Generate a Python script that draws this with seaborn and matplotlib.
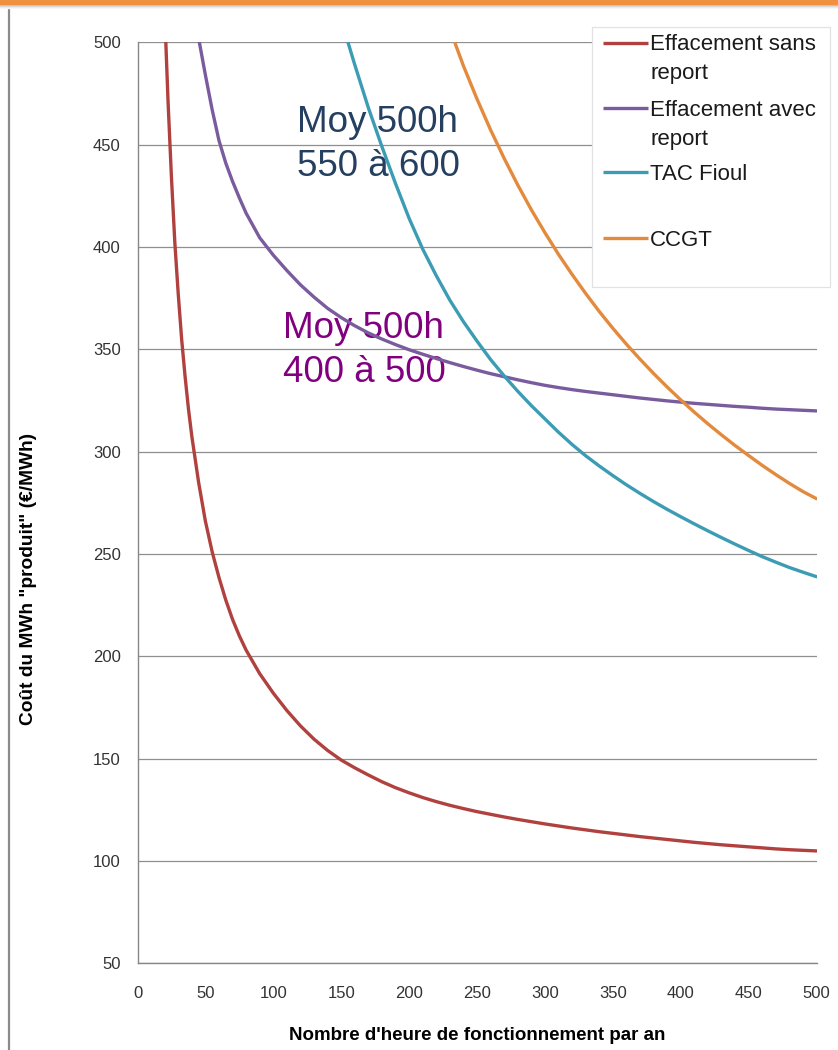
import matplotlib
matplotlib.use("Agg")
import matplotlib.pyplot as plt
import pandas as pd
import seaborn as sns
from matplotlib.lines import Line2D
from matplotlib.patches import Rectangle
from matplotlib.ticker import MultipleLocator

# ---- data -----------------------------------------------------------------
series_names = ["Effacement sans report", "Effacement avec report", "TAC Fioul", "CCGT"]
legend_lines = [["Effacement sans", "report"], ["Effacement avec", "report"], ["TAC Fioul"], ["CCGT"]]
series_colors = ["#B0413E", "#7A5C9E", "#3C9CB4", "#E48A3C"]

# hours of operation per year (denser where the curves are steep)
hours_sans_report = [20, 22.5, 25, 27.5, 30, 32.5, 35, 37.5, 40, 45, 50, 55, 60, 65, 70, 75, 80,
                     90, 100, 110, 120, 130, 140, 150, 160, 170, 180, 190, 200,
                     210, 220, 230, 240, 250, 260, 270, 280, 290, 300,
                     310, 320, 330, 340, 350, 360, 370, 380, 390, 400,
                     410, 420, 430, 440, 450, 460, 470, 480, 490, 500]
cost_sans_report = [515, 471, 434, 402, 377, 355, 337, 321, 307.5, 285, 266, 251, 238.5, 227.5, 218, 210, 203,
                    191.5, 182, 173.5, 166, 159.5, 154, 149.3, 145.5, 142, 138.7, 135.8, 133.3,
                    131, 129, 127.2, 125.6, 124.1, 122.8, 121.5, 120.3, 119.2, 118.1,
                    117.1, 116.1, 115.2, 114.3, 113.5, 112.7, 111.9, 111.2, 110.5, 109.8,
                    109.1, 108.5, 107.9, 107.4, 106.9, 106.4, 105.9, 105.5, 105.2, 104.9]

hours_avec_report = [40, 45, 50, 55, 60, 65, 70, 75, 80, 90, 100, 110, 120, 130, 140, 150,
                     160, 170, 180, 190, 200, 210, 220, 230, 240, 250, 260, 270, 280, 290, 300,
                     310, 320, 330, 340, 350, 360, 370, 380, 390, 400,
                     410, 420, 430, 440, 450, 460, 470, 480, 490, 500]
cost_avec_report = [525, 502, 484, 467, 452, 441, 432, 424, 416.5, 404.5, 396, 388.5, 381.5, 375.5, 370, 365.5,
                    361.5, 358, 355, 352.3, 349.8, 347.6, 345.5, 343.5, 341.6, 339.8, 338.1, 336.6, 335.1, 333.7, 332.4,
                    331.3, 330.3, 329.4, 328.6, 327.8, 327, 326.2, 325.5, 324.8, 324.2,
                    323.6, 323.1, 322.6, 322.1, 321.7, 321.2, 320.8, 320.5, 320.2, 319.9]

hours_tac = [150, 155, 160, 165, 170, 175, 180, 185, 190, 195, 200, 205, 210, 215, 220, 225, 230,
             240, 250, 260, 270, 280, 290, 300, 310, 320, 330, 340, 350, 360, 370, 380, 390, 400,
             410, 420, 430, 440, 450, 460, 470, 480, 490, 500]
cost_tac = [512, 500, 489, 478.5, 468, 458.5, 449, 440, 431, 422.5, 414, 406.5, 399, 392.5, 386, 380, 374,
            363.5, 354, 345, 337, 329.5, 322.5, 316, 309.5, 303.5, 298, 293, 288.3, 283.8, 279.6, 275.6, 271.8, 268.2,
            264.7, 261.3, 258, 254.8, 251.7, 248.7, 246, 243.4, 241.1, 238.9]

hours_ccgt = [230, 240, 250, 260, 270, 280, 290, 300, 310, 320, 330, 340, 350, 360,
              370, 380, 390, 400, 410, 420, 430, 440, 450, 460, 470, 480, 490, 500]
cost_ccgt = [506.5, 488.5, 472.3, 457.2, 443.3, 430.3, 418.2, 407, 396.4, 386.6, 377.3, 368.5, 360.3, 352.5,
             345.2, 338.2, 331.6, 325.3, 319.3, 313.6, 308.2, 303, 298.1, 293.3, 288.8, 284.5, 280.5, 277]

x_ticks = list(range(0, 501, 50))
y_ticks = list(range(50, 501, 50))

x_label = "Nombre d'heure de fonctionnement par an"
y_label = 'Coût du MWh "produit" (€/MWh)'
note_fioul = ["Moy 500h", "550 à 600"]
note_effacement = ["Moy 500h", "400 à 500"]

# ---- style ------------------------------------------------------------------
sns.set_style("white")
plt.rcParams["font.family"] = ["Liberation Sans", "DejaVu Sans"]

# ---- long-form table ----------------------------------------------------------
frames = []
for name, hrs, vals in [
    (series_names[0], hours_sans_report, cost_sans_report),
    (series_names[1], hours_avec_report, cost_avec_report),
    (series_names[2], hours_tac, cost_tac),
    (series_names[3], hours_ccgt, cost_ccgt),
]:
    frames.append(pd.DataFrame({"heures": hrs, "cout": vals, "serie": name}))
df = pd.concat(frames, ignore_index=True)

# ---- figure -----------------------------------------------------------------
W, H = 838, 1050
fig = plt.figure(figsize=(W / 100, H / 100), dpi=100)
fig.patch.set_facecolor("white")


def fx(px):
    return px / W


def fy(py):
    return 1 - py / H


ax_left, ax_right, ax_top, ax_bottom = 137.5, 816.5, 42.3, 963.3
ax = fig.add_axes([fx(ax_left), fy(ax_bottom), (ax_right - ax_left) / W, (ax_bottom - ax_top) / H])

grey = "#878787"
ax.set_xlim(0, 500)
ax.set_ylim(50, 500)
ax.set_yticks(y_ticks)
ax.set_xticks(x_ticks)
ax.xaxis.set_minor_locator(MultipleLocator(10))
ax.yaxis.grid(True, color="#8f8f8f", linewidth=0.9)
ax.xaxis.grid(False)
ax.set_axisbelow(True)

sns.lineplot(data=df, x="heures", y="cout", hue="serie", hue_order=series_names,
             palette=dict(zip(series_names, series_colors)), estimator=None,
             linewidth=2.4, legend=False, ax=ax, zorder=3)

sns.despine(ax=ax)
for side in ("left", "bottom"):
    ax.spines[side].set_color(grey)
    ax.spines[side].set_linewidth(1.0)

ax.tick_params(axis="y", which="major", length=5, width=0.9, color=grey, direction="out",
               pad=7, labelsize=12, labelcolor="#333333")
ax.tick_params(axis="x", which="both", length=3.6, width=0.9, color=grey, direction="out",
               pad=13, labelsize=12, labelcolor="#333333")

ax.set_xlabel(x_label, fontsize=13.5, fontweight="bold", color="black")
ax.set_ylabel(y_label, fontsize=13.8, fontweight="bold", color="black")
ax.xaxis.label.set_verticalalignment("center")
ax.yaxis.label.set_verticalalignment("center")
ax.xaxis.set_label_coords(0.5, -(1035 - ax_bottom) / (ax_bottom - ax_top))
ax.yaxis.set_label_coords(-(ax_left - 29) / (ax_right - ax_left), (ax_bottom - 579) / (ax_bottom - ax_top))

# ---- notes on the plot area (under the curves) -----------------------------------
for text, h, v in [(note_fioul[0], 117.6, 456.3), (note_fioul[1], 117.6, 434.8)]:
    ax.text(h, v, text, color="#243F60", fontsize=26.5, va="baseline", ha="left", zorder=1)
for text, h, v in [(note_effacement[0], 107.5, 355.5), (note_effacement[1], 107.5, 333.8)]:
    ax.text(h, v, text, color="#800080", fontsize=26.5, va="baseline", ha="left", zorder=1)

# ---- legend box ------------------------------------------------------------------
fig.add_artist(Rectangle((fx(591.7), fy(286.7)), (830 - 591.7) / W, (286.7 - 27.3) / H,
                         transform=fig.transFigure, facecolor="white",
                         edgecolor="#e2e2e2", linewidth=0.9, zorder=5))
handle_y = [43, 108, 172, 238]
line_y = [[45, 74], [110, 140], [175], [240]]
for color, lines, hy, ty in zip(series_colors, legend_lines, handle_y, line_y):
    fig.add_artist(Line2D([fx(603.3), fx(648.3)], [fy(hy), fy(hy)], transform=fig.transFigure,
                          color=color, linewidth=2.4, solid_capstyle="butt", zorder=6))
    for txt, y in zip(lines, ty):
        fig.text(fx(650), fy(y), txt, fontsize=16, color="#1a1a1a",
                 ha="left", va="center", zorder=6)

# ---- slide frame: orange top band and grey left border ---------------------------------
fig.add_artist(Rectangle((0, fy(5)), 1, 5 / H, transform=fig.transFigure,
                         facecolor="#F0913F", edgecolor="none", zorder=7))
for i, a in enumerate([0.35, 0.22, 0.12, 0.05]):
    fig.add_artist(Rectangle((0, fy(6 + i)), 1, 1 / H, transform=fig.transFigure,
                             facecolor="#555555", alpha=a, edgecolor="none", zorder=7))
fig.add_artist(Line2D([fx(9), fx(9)], [0, fy(10)], transform=fig.transFigure,
                      color="#8a8a8a", linewidth=1.6, zorder=7))

fig.savefig("out.png", dpi=100, facecolor="white")
